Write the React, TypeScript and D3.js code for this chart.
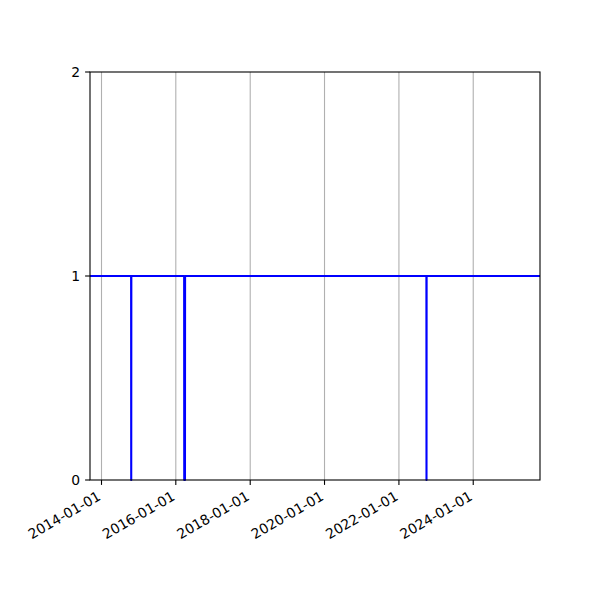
import React, { useEffect, useRef } from "react";
import * as d3 from "d3";

const dates = [
  "2013-09-10", "2014-10-19", "2014-10-20", "2014-10-21",
  "2016-03-23", "2016-03-24", "2016-03-31", "2016-04-01",
  "2022-09-28", "2022-09-29", "2022-09-30", "2025-10-18",
];
const values = [1, 1, 0, 1, 1, 0, 0, 1, 1, 0, 1, 1];
const yTicks = [0, 1, 2];
const xTickYears = [2014, 2016, 2018, 2020, 2022, 2024];

const W = 600, H = 600;
const M = { left: 90, right: 540, top: 72, bottom: 480 };
const FONT = "DejaVu Sans, sans-serif";
const FS = 13.9;

export default function App() {
  const ref = useRef<SVGSVGElement>(null);
  useEffect(() => {
    const svg = d3.select(ref.current!);
    svg.selectAll("*").remove();
    const parse = d3.utcParse("%Y-%m-%d");
    const pts = dates.map((d, i) => ({ t: parse(d)!, v: values[i] }));
    const x = d3.scaleUtc().domain([pts[0].t, pts[pts.length - 1].t]).range([M.left, M.right]);
    const y = d3.scaleLinear().domain([0, 2]).range([M.bottom, M.top]);
    const fmt = d3.utcFormat("%Y-%m-%d");
    const ticks = xTickYears.map((yr) => new Date(Date.UTC(yr, 0, 1)));

    svg.append("rect").attr("width", W).attr("height", H).attr("fill", "#fff");

    // grid
    svg.append("g").selectAll("line").data(ticks).join("line")
      .attr("x1", (d) => x(d)).attr("x2", (d) => x(d))
      .attr("y1", M.top).attr("y2", M.bottom)
      .attr("stroke", "#b0b0b0").attr("stroke-width", 1.1);

    // line
    const clipId = "clip-plot";
    svg.append("clipPath").attr("id", clipId).append("rect")
      .attr("x", M.left).attr("y", M.top - 2)
      .attr("width", M.right - M.left).attr("height", M.bottom - M.top + 4);
    const line = d3.line<{ t: Date; v: number }>().x((d) => x(d.t)).y((d) => y(d.v));
    svg.append("path").datum(pts).attr("d", line)
      .attr("clip-path", `url(#${clipId})`)
      .attr("fill", "none").attr("stroke", "#0000ff").attr("stroke-width", 2.1)
      .attr("stroke-linejoin", "round");

    // spines
    svg.append("rect").attr("x", M.left).attr("y", M.top)
      .attr("width", M.right - M.left).attr("height", M.bottom - M.top)
      .attr("fill", "none").attr("stroke", "#000").attr("stroke-width", 1.1);

    // x ticks
    const xt = svg.append("g").selectAll("g").data(ticks).join("g");
    xt.append("line").attr("x1", (d) => x(d)).attr("x2", (d) => x(d))
      .attr("y1", M.bottom).attr("y2", M.bottom + 4.9)
      .attr("stroke", "#000").attr("stroke-width", 1.1);
    xt.append("text")
      .attr("transform", (d) => `translate(${x(d) - 5},${M.bottom + 10}) rotate(-30)`)
      .attr("text-anchor", "end").attr("dy", "0.75em")
      .attr("font-family", FONT).attr("font-size", FS).attr("fill", "#000")
      .text((d) => fmt(d));

    // y ticks
    const yt = svg.append("g").selectAll("g").data(yTicks).join("g");
    yt.append("line").attr("x1", M.left - 4.9).attr("x2", M.left)
      .attr("y1", (d) => y(d)).attr("y2", (d) => y(d))
      .attr("stroke", "#000").attr("stroke-width", 1.1);
    yt.append("text").attr("x", M.left - 9.8).attr("y", (d) => y(d))
      .attr("text-anchor", "end").attr("dy", "0.35em")
      .attr("font-family", FONT).attr("font-size", FS).attr("fill", "#000")
      .text((d) => String(d));
  }, []);
  return (
    <svg ref={ref} width={W} height={H}
      style={{ position: "absolute", left: 0, top: 0, display: "block" }} />
  );
}
